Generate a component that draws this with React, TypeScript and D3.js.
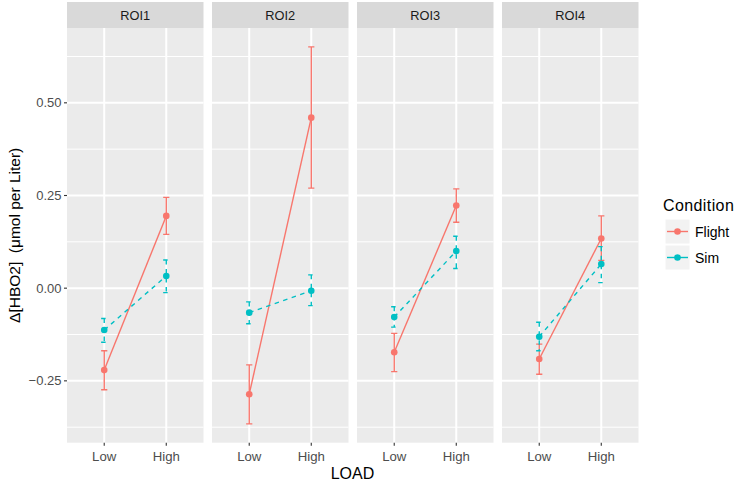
import { useRef, useEffect } from 'react'
import * as d3 from 'd3'

const ROIS = ['ROI1', 'ROI2', 'ROI3', 'ROI4']
const LOADS = ['Low', 'High']
const CONDITIONS = ['Flight', 'Sim']
const COLORS = ['#F8766D', '#00BFC4']
const Y_TICKS = [-0.25, 0, 0.25, 0.5]
const Y_MINOR = [-0.375, -0.125, 0.125, 0.375, 0.625]

// [Low, High] per ROI
const flightMean = [[-0.221, 0.195], [-0.286, 0.46], [-0.173, 0.223], [-0.191, 0.134]]
const flightLo = [[-0.274, 0.145], [-0.366, 0.27], [-0.225, 0.178], [-0.232, 0.075]]
const flightHi = [[-0.169, 0.245], [-0.207, 0.651], [-0.122, 0.268], [-0.151, 0.195]]
const simMean = [[-0.113, 0.033], [-0.066, -0.007], [-0.078, 0.1], [-0.131, 0.065]]
const simLo = [[-0.146, -0.012], [-0.096, -0.047], [-0.105, 0.053], [-0.169, 0.015]]
const simHi = [[-0.082, 0.076], [-0.037, 0.036], [-0.05, 0.14], [-0.092, 0.112]]

const FONT = '"Liberation Sans", Arial, sans-serif'

export default function App() {
  const svgRef = useRef<SVGSVGElement>(null)

  useEffect(() => {
    if (!svgRef.current) return
    const svg = d3.select(svgRef.current)
    svg.selectAll('*').remove()

    const width = 737
    const height = 483
    const top = 28
    const bottom = 442.7
    const stripTop = 2

    svg.attr('width', width).attr('height', height).style('font-family', FONT)
    svg.append('rect').attr('width', width).attr('height', height).attr('fill', '#fff')

    const series = [
      { mean: flightMean, lo: flightLo, hi: flightHi, dash: null },
      { mean: simMean, lo: simLo, hi: simHi, dash: '4.5,4.5' },
    ]

    // y domain from all error bar ends, 5% expansion like ggplot
    const all = series.flatMap(s => [...s.lo.flat(), ...s.hi.flat()])
    const [mn, mx] = d3.extent(all) as [number, number]
    const pad = (mx - mn) * 0.05
    const y = d3.scaleLinear().domain([mn - pad, mx + pad]).range([bottom, top])

    const facet = d3.scaleBand().domain(ROIS).range([67, 638.5]).paddingInner(0.0587)

    ROIS.forEach((roi, ri) => {
      const x0 = facet(roi)!
      const bw = facet.bandwidth()
      const x = d3.scalePoint().domain(LOADS).range([x0, x0 + bw]).padding(0.6)
      const step = x.step()

      // strip
      svg.append('rect').attr('x', x0).attr('y', stripTop).attr('width', bw).attr('height', top - stripTop)
        .attr('fill', '#d9d9d9')
      svg.append('text').attr('x', x0 + bw / 2).attr('y', top - 8.5).attr('text-anchor', 'middle')
        .style('font-size', '12.8px').style('fill', '#1a1a1a').text(roi)

      // panel
      svg.append('rect').attr('x', x0).attr('y', top).attr('width', bw).attr('height', bottom - top)
        .attr('fill', '#ebebeb')
      Y_MINOR.forEach(v => {
        if (y(v) < top || y(v) > bottom) return
        svg.append('line').attr('x1', x0).attr('x2', x0 + bw).attr('y1', y(v)).attr('y2', y(v))
          .attr('stroke', '#fff').attr('stroke-width', 1)
      })
      Y_TICKS.forEach(v => {
        svg.append('line').attr('x1', x0).attr('x2', x0 + bw).attr('y1', y(v)).attr('y2', y(v))
          .attr('stroke', '#fff').attr('stroke-width', 2)
      })
      LOADS.forEach(l => {
        svg.append('line').attr('x1', x(l)!).attr('x2', x(l)!).attr('y1', top).attr('y2', bottom)
          .attr('stroke', '#fff').attr('stroke-width', 2)
        // x tick + label
        svg.append('line').attr('x1', x(l)!).attr('x2', x(l)!).attr('y1', bottom).attr('y2', bottom + 3)
          .attr('stroke', '#333').attr('stroke-width', 1.1)
        svg.append('text').attr('x', x(l)!).attr('y', bottom + 18).attr('text-anchor', 'middle')
          .style('font-size', '13.2px').style('fill', '#4d4d4d').text(l)
      })

      const g = svg.append('g')
      const cap = step * 0.05

      // error bars
      series.forEach((s, si) => {
        LOADS.forEach((l, li) => {
          const cx = x(l)!
          const p = d3.path()
          p.moveTo(cx - cap, y(s.hi[ri][li]))
          p.lineTo(cx + cap, y(s.hi[ri][li]))
          p.moveTo(cx, y(s.hi[ri][li]))
          p.lineTo(cx, y(s.lo[ri][li]))
          p.moveTo(cx - cap, y(s.lo[ri][li]))
          p.lineTo(cx + cap, y(s.lo[ri][li]))
          g.append('path').attr('d', p.toString()).attr('fill', 'none')
            .attr('stroke', COLORS[si]).attr('stroke-width', 1.4)
            .attr('stroke-dasharray', s.dash)
        })
      })

      // lines
      const line = d3.line<number>().x((_, i) => x(LOADS[i])!).y(d => y(d))
      series.forEach((s, si) => {
        g.append('path').attr('d', line(s.mean[ri])).attr('fill', 'none')
          .attr('stroke', COLORS[si]).attr('stroke-width', 1.4)
          .attr('stroke-dasharray', s.dash)
      })

      // points
      series.forEach((s, si) => {
        g.selectAll(`.pt-${si}`).data(s.mean[ri]).join('circle')
          .attr('class', `pt-${si}`)
          .attr('cx', (_, i) => x(LOADS[i])!).attr('cy', d => y(d))
          .attr('r', 3.3).attr('fill', COLORS[si])
      })
    })

    // y axis
    Y_TICKS.forEach(v => {
      svg.append('line').attr('x1', 64).attr('x2', 67).attr('y1', y(v)).attr('y2', y(v))
        .attr('stroke', '#333').attr('stroke-width', 1.1)
      svg.append('text').attr('x', 61.5).attr('y', y(v) + 4.6).attr('text-anchor', 'end')
        .style('font-size', '13px').style('fill', '#4d4d4d').text(d3.format('.2f')(v).replace('-', '\u2212'))
    })

    // axis titles
    svg.append('text').attr('x', 352.5).attr('y', 479).attr('text-anchor', 'middle')
      .style('font-size', '16px').style('fill', '#000').text('LOAD')
    svg.append('text').attr('transform', `translate(20,${(top + bottom) / 2}) rotate(-90)`)
      .attr('text-anchor', 'middle').style('font-size', '15.5px').style('fill', '#000')
      .style('white-space', 'pre').text('\u0394[HBO2]  (\u03bcmol per Liter)')

    // legend
    svg.append('text').attr('x', 663).attr('y', 211).style('font-size', '16px').style('fill', '#000')
      .style('letter-spacing', '0.4px').text('Condition')
    CONDITIONS.forEach((c, i) => {
      const ky = 219 + i * 26
      svg.append('rect').attr('x', 665).attr('y', ky).attr('width', 25).attr('height', 25)
        .attr('fill', '#f2f2f2').attr('stroke', '#fff').attr('stroke-width', 1)
      svg.append('line').attr('x1', 667).attr('x2', 688).attr('y1', ky + 12.5).attr('y2', ky + 12.5)
        .attr('stroke', COLORS[i]).attr('stroke-width', 1.4)
      svg.append('circle').attr('cx', 677.5).attr('cy', ky + 12.5).attr('r', 3.3).attr('fill', COLORS[i])
      svg.append('text').attr('x', 695).attr('y', ky + 17.5).style('font-size', '14px').style('fill', '#000')
        .text(c)
    })
  }, [])

  return (
    <div style={{ position: 'absolute', left: 0, top: 0 }}>
      <svg ref={svgRef} style={{ display: 'block' }} />
    </div>
  )
}
